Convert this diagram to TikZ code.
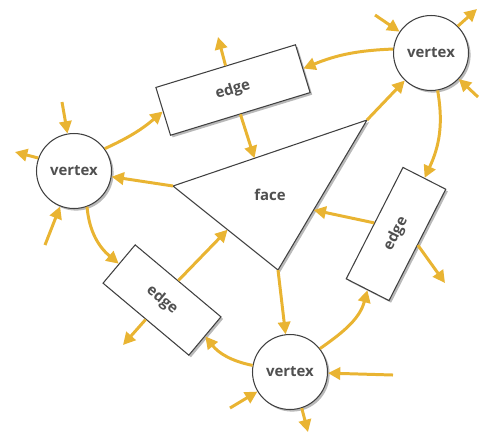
\documentclass[tikz,border=0pt]{standalone}
\usepackage{fontspec}
\setmainfont{Open Sans}
\usetikzlibrary{arrows.meta,shadows,calc}
\definecolor{gold}{RGB}{233,180,50}
\definecolor{txt}{RGB}{80,80,80}
\begin{document}
\begin{tikzpicture}[x=0.02cm,y=-0.02cm,
  shad/.style={drop shadow={shadow xshift=1.2pt,shadow yshift=-1.2pt,fill=black!55}},
  box/.style={draw=black!75,line width=0.6pt,fill=white,inner sep=0pt,shad,
    font=\fontsize{8.5}{10}\selectfont\bfseries,text=txt},
  vert/.style={box,circle,minimum size=1.5cm},
  edgebox/.style={box,rectangle},
  arr/.style={gold,line width=1.7pt,-{Triangle[length=7pt,width=7pt]}}]
\useasboundingbox (0,0) rectangle (479,434);

% face
\coordinate (fL) at (173,186);
\coordinate (fT) at (367,120);
\coordinate (fB) at (278,270);
\draw[draw=black!75,line width=0.6pt,fill=white,shad]
  (fL) -- (fT) -- (fB) -- cycle;
\node[font=\fontsize{8.5}{10}\selectfont\bfseries,text=txt] (face) at (270,195) {face};

% vertices
\node[vert] (vL) at (74,171) {vertex};
\node[vert] (vTR) at (431,53) {vertex};
\node[vert] (vB) at (290,372) {vertex};

% edges
\node[edgebox,minimum width=2.92cm,minimum height=1.0cm,rotate=17] (eT) at (233,90) {edge};
\node[edgebox,minimum width=2.24cm,minimum height=1.0cm,rotate=-40] (eLB) at (162,300) {edge};
\node[edgebox,minimum width=2.5cm,minimum height=0.96cm,rotate=63] (eR) at (396,234) {edge};

% free ends
\coordinate (cTup) at (218,37);
\coordinate (cLin) at (62,102);
\coordinate (cLout) at (15,152);
\coordinate (cLin2) at (45,245);
\coordinate (cTRin1) at (375,15);
\coordinate (cTRout) at (477,9);
\coordinate (cTRin2) at (478,97);
\coordinate (cBin1) at (393,375);
\coordinate (cBin2) at (230,408);
\coordinate (cBout) at (308,432);
\coordinate (cLBout) at (123,345);
\coordinate (cRout) at (445,283);

% connectors
\draw[arr] (vL.36) to[bend right=8] (eT.west);
\draw[arr] (eT.north) -- (cTup);
\draw[arr] (eT.south) -- ($(fL)!0.42!(fT)$);
\draw[arr] (vTR.174) to[bend right=10] (eT.east);
\draw[arr] (fT) -- (vTR);
\draw[arr] (vTR.-80) to[out=-80,in=65] (eR.east);
\draw[arr] (cTRin1) -- (vTR);
\draw[arr] (vTR.45) -- (cTRout);
\draw[arr] (cTRin2) -- (vTR);
\draw[arr] (cLin) -- (vL);
\draw[arr] (vL.160) -- (cLout);
\draw[arr] (cLin2) -- (vL);
\draw[arr] (fL) -- (vL);
\draw[arr] (vL.-70) to[out=-85,in=140] (eLB.west);
\draw[arr] (eLB.north) -- ($(fL)!0.52!(fB)$);
\draw[arr] (eLB.south) -- (cLBout);
\draw[arr] (vB.170) to[bend left=20] (eLB.east);
\draw[arr] (cBin1) -- (vB);
\draw[arr] (cBin2) -- (vB);
\draw[arr] (vB.-72) -- (cBout);
\draw[arr] (fB) -- (vB);
\draw[arr] (vB.38) to[out=35,in=-105] (eR.west);
\draw[arr] (eR.north) -- ($(fT)!0.6!(fB)$);
\draw[arr] (eR.south) -- (cRout);
\end{tikzpicture}
\end{document}
